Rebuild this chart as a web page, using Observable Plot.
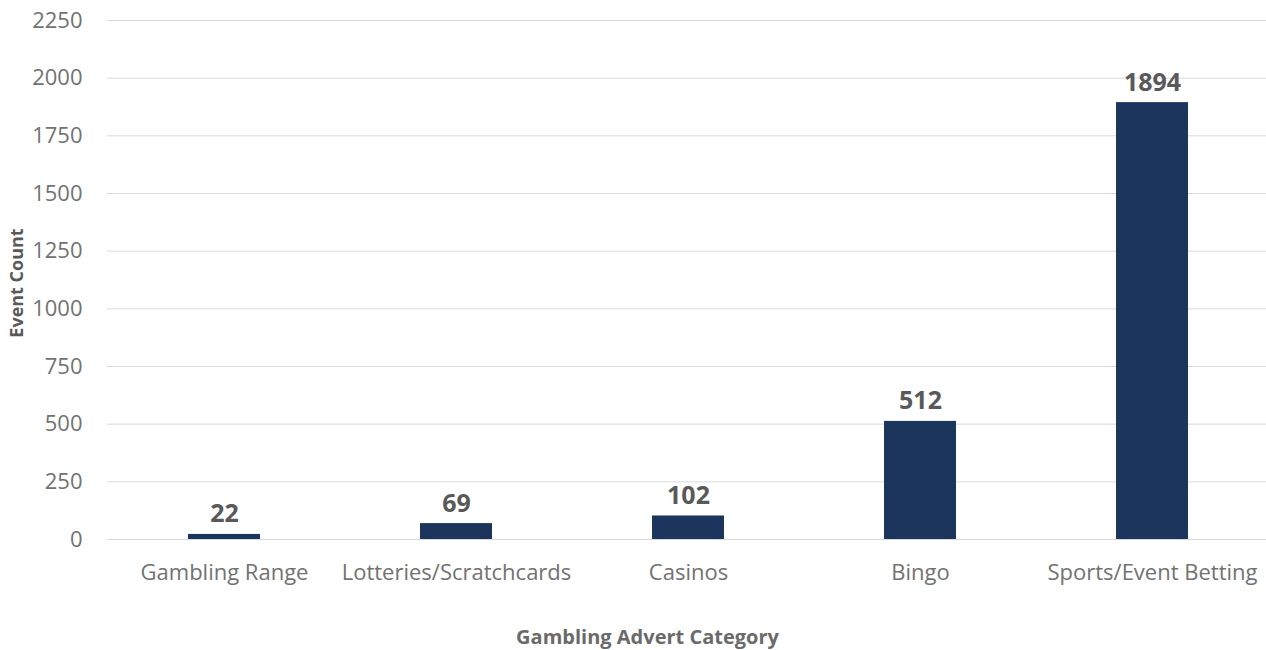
<!DOCTYPE html>
<html>
<head>
<meta charset="utf-8">
<script src="https://cdn.jsdelivr.net/npm/d3@7"></script>
<script src="https://cdn.jsdelivr.net/npm/@observablehq/plot@0.6"></script>
<style>
  html, body { margin: 0; padding: 0; background: #fff; }
  #chart svg { display: block; }
</style>
</head>
<body>
<div id="chart"></div>
<script>
const categories = ["Gambling Range", "Lotteries/Scratchcards", "Casinos", "Bingo", "Sports/Event Betting"];
const counts = [22, 69, 102, 512, 1894];
const yTicks = [0, 250, 500, 750, 1000, 1250, 1500, 1750, 2000, 2250];
const xTitle = "Gambling Advert Category";
const yTitle = "Event Count";

const data = categories.map((c, i) => ({category: c, count: counts[i]}));

const font = "'Open Sans', 'Noto Sans', sans-serif";
const grey = "#595959";
const tickGrey = "#727272";

const chart = Plot.plot({
  width: 1266,
  height: 650,
  marginLeft: 107,
  marginRight: -3,
  marginTop: 20,
  marginBottom: 111,
  style: {fontFamily: font, fontSize: "22px", color: grey, background: "#fff", overflow: "visible"},
  x: {domain: categories, paddingInner: 0.69, paddingOuter: 0.345, label: null},
  y: {domain: [0, 2250], label: null},
  marks: [
    Plot.gridY(yTicks, {stroke: "#d9d9d9", strokeOpacity: 1, strokeWidth: 1}),
    Plot.axisY(yTicks, {tickSize: 0, tickPadding: 25, fontSize: 22, fill: tickGrey, tickFormat: d3.format("d"), label: null}),
    Plot.axisX({tickSize: 0, tickPadding: 25, fontSize: 22, fill: tickGrey, label: null}),
    Plot.barY(data, {x: "category", y: "count", fill: "#1b355d"}),
    Plot.text(data, {x: "category", y: "count", text: d => String(d.count), dy: -20, fontSize: 25, fontWeight: "bold", fill: grey}),
    Plot.text([xTitle], {frameAnchor: "bottom", textAnchor: "middle", text: d => d, dx: -41, dy: 104, fontSize: 20, fontWeight: "bold", fill: "#6a6a6a"}),
    Plot.text([yTitle], {frameAnchor: "left", textAnchor: "middle", text: d => d, rotate: -90, dx: -90, dy: 3, fontSize: 18, fontWeight: "bold", fill: grey})
  ]
});

document.getElementById("chart").appendChild(chart);
</script>
</body>
</html>
